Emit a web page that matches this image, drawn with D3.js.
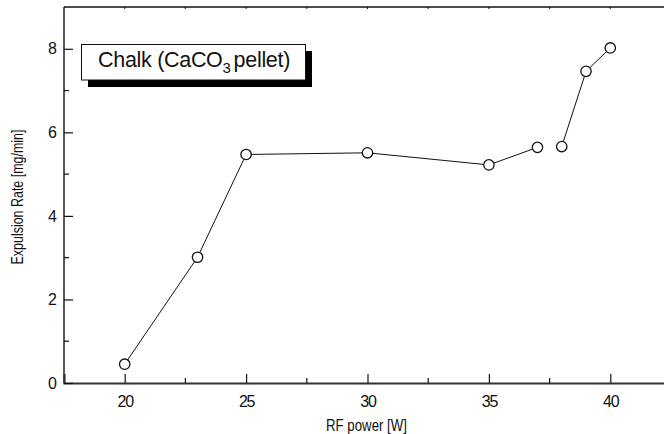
<!DOCTYPE html>
<html>
<head>
<meta charset="utf-8">
<script src="https://cdn.jsdelivr.net/npm/d3@7"></script>
<style>
  body { margin: 0; background: #fff; }
  svg { display: block; font-family: "Liberation Sans", Arial, sans-serif; }
</style>
</head>
<body>
<svg id="chart"></svg>
<script>
// data (two separate runs, gap between 37 W and 38 W)
const powerA = [20, 23, 25, 30, 35, 37];
const rateA = [0.45, 3.01, 5.47, 5.51, 5.22, 5.64];
const powerB = [38, 39, 40];
const rateB = [5.66, 7.46, 8.02];

const xTicks = [20, 25, 30, 35, 40];
const xMinor = [22.5, 27.5, 32.5, 37.5, 42.5];
const yTicks = [0, 2, 4, 6, 8];
const yMinor = [1, 3, 5, 7];

const width = 664, height = 434;
const margin = {top: 7, right: -7, bottom: 51, left: 64};
const font = "'Liberation Sans', Arial, sans-serif";

const svg = d3.select("#chart").attr("width", width).attr("height", height);

const x = d3.scaleLinear().domain([17.5, 42.5]).range([margin.left, width - margin.right]);
const y = d3.scaleLinear().domain([0, 9]).range([height - margin.bottom, margin.top]);

// frame: left + top thin, bottom thick
svg.append("line").attr("x1", x(17.5)).attr("x2", x(17.5)).attr("y1", y(0)).attr("y2", y(9))
  .attr("stroke", "#111").attr("stroke-width", 1.4);
svg.append("line").attr("x1", x(17.5)).attr("x2", x(42.5)).attr("y1", y(9)).attr("y2", y(9))
  .attr("stroke", "#111").attr("stroke-width", 1.4);

// bottom axis
const xAxis = svg.append("g")
  .attr("transform", `translate(0,${y(0)})`)
  .call(d3.axisBottom(x).tickValues(xTicks).tickSize(-9).tickPadding(13).tickFormat(d3.format("d")));
xAxis.select(".domain").attr("stroke", "#333").attr("stroke-width", 2.2);
xAxis.selectAll(".tick line").attr("stroke", "#111").attr("stroke-width", 1.2);
xAxis.selectAll(".tick text").attr("font-size", 16).attr("fill", "#111")
  .attr("letter-spacing", "-1.2px").attr("font-family", font);
svg.append("g").selectAll("line").data(xMinor).join("line")
  .attr("x1", d => x(d)).attr("x2", d => x(d))
  .attr("y1", y(0)).attr("y2", y(0) - 5)
  .attr("stroke", "#111").attr("stroke-width", 1.2);
// tiny ticks on top axis
svg.append("g").selectAll("line").data(xTicks.concat(xMinor)).join("line")
  .attr("x1", d => x(d)).attr("x2", d => x(d))
  .attr("y1", y(9)).attr("y2", y(9) + 2)
  .attr("stroke", "#111").attr("stroke-width", 1);

// left axis
const yAxis = svg.append("g")
  .attr("transform", `translate(${x(17.5)},0)`)
  .call(d3.axisLeft(y).tickValues(yTicks).tickSize(-9).tickPadding(7).tickFormat(d3.format("d")));
yAxis.select(".domain").remove();
yAxis.selectAll(".tick line").attr("stroke", "#111").attr("stroke-width", 1.2);
yAxis.selectAll(".tick text").attr("font-size", 16).attr("fill", "#111").attr("font-family", font);
svg.append("g").selectAll("line").data(yMinor).join("line")
  .attr("x1", x(17.5)).attr("x2", x(17.5) + 5)
  .attr("y1", d => y(d)).attr("y2", d => y(d))
  .attr("stroke", "#111").attr("stroke-width", 1.2);

// axis titles (condensed to the reference width)
svg.append("text")
  .attr("x", x(30) - 1).attr("y", 431)
  .attr("text-anchor", "middle").attr("font-size", 17)
  .attr("textLength", 81).attr("lengthAdjust", "spacingAndGlyphs")
  .attr("fill", "#111").text("RF power [W]");
svg.append("text")
  .attr("transform", `translate(23,${(y(0) + y(9)) / 2 + 2}) rotate(-90)`)
  .attr("text-anchor", "middle").attr("font-size", 17)
  .attr("textLength", 135).attr("lengthAdjust", "spacingAndGlyphs")
  .attr("fill", "#111").text("Expulsion Rate [mg/min]");

// lines + markers
const line = d3.line().x(d => x(d[0])).y(d => y(d[1]));
const runs = [d3.zip(powerA, rateA), d3.zip(powerB, rateB)];
svg.append("g").selectAll("path").data(runs).join("path")
  .attr("d", line).attr("fill", "none").attr("stroke", "#111").attr("stroke-width", 1);
svg.append("g").selectAll("circle").data(runs.flat()).join("circle")
  .attr("cx", d => x(d[0])).attr("cy", d => y(d[1])).attr("r", 5.2)
  .attr("fill", "#fff").attr("stroke", "#111").attr("stroke-width", 1.3);

// label box with drop shadow
const box = svg.append("g");
box.append("rect").attr("x", 88).attr("y", 51).attr("width", 224).attr("height", 36).attr("fill", "#000");
box.append("rect").attr("x", 81.5).attr("y", 44.5).attr("width", 224).attr("height", 35.5)
  .attr("fill", "#fff").attr("stroke", "#111").attr("stroke-width", 1);
const label = box.append("text").attr("x", 98).attr("y", 67).attr("font-size", 21.5)
  .attr("letter-spacing", "-0.3px").attr("fill", "#111");
label.append("tspan").text("Chalk (CaCO");
label.append("tspan").attr("dy", 6).attr("font-size", 15).text("3");
label.append("tspan").attr("dy", -6).attr("dx", 3).text("pellet)");
</script>
</body>
</html>
